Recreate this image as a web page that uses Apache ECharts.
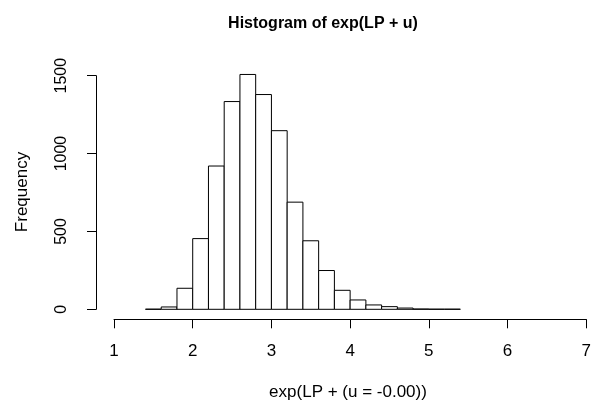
<!DOCTYPE html>
<html>
<head>
<meta charset="utf-8">
<script src="https://cdn.jsdelivr.net/npm/echarts@6/dist/echarts.min.js"></script>
<style>
  html, body { margin: 0; padding: 0; background: #fff; }
  #chart { width: 594px; height: 405px; }
</style>
</head>
<body>
<div id="chart"></div>
<script>
// Histogram bin edges and the frequency of each bin
const breaks = [1.4, 1.6, 1.8, 2.0, 2.2, 2.4, 2.6, 2.8, 3.0, 3.2, 3.4,
                3.6, 3.8, 4.0, 4.2, 4.4, 4.6, 4.8, 5.0, 5.2, 5.4];
const counts = [1, 15, 135, 454, 920, 1334, 1508, 1379, 1147, 688,
                440, 249, 122, 60, 28, 17, 8, 2, 1, 1];

// Axis tick values
const xTicks = [1, 2, 3, 4, 5, 6, 7];
const yTicks = [0, 500, 1000, 1500];

const titleText = 'Histogram of exp(LP + u)';
const xLabelText = 'exp(LP + (u = -0.00))';
const yLabelText = 'Frequency';

const bins = counts.map((c, i) => [breaks[i], breaks[i + 1], c]);

const font = "'Liberation Sans', Arial, sans-serif";
const narrowFont = "'Liberation Sans Narrow', 'Liberation Sans', Arial, sans-serif";

const chart = echarts.init(document.getElementById('chart'), null, { renderer: 'canvas' });

chart.setOption({
  animation: false,
  backgroundColor: '#ffffff',
  grid: { left: 114, right: 7.3, top: 75.7, bottom: 95.7, containLabel: false },
  xAxis: {
    type: 'value',
    min: xTicks[0],
    max: xTicks[xTicks.length - 1],
    interval: 1,
    offset: 10,
    axisLine: { show: true, onZero: false, lineStyle: { color: '#000', width: 1 } },
    axisTick: { show: true, inside: false, length: 9, lineStyle: { color: '#000', width: 1 } },
    axisLabel: { color: '#000', fontFamily: font, fontSize: 17, margin: 24,
                 formatter: v => String(v) },
    splitLine: { show: false }
  },
  yAxis: {
    type: 'value',
    min: yTicks[0],
    max: yTicks[yTicks.length - 1],
    interval: 500,
    offset: 18,
    axisLine: { show: true, onZero: false, lineStyle: { color: '#000', width: 1 } },
    axisTick: { show: true, inside: false, length: 9, lineStyle: { color: '#000', width: 1 } },
    axisLabel: { color: '#000', fontFamily: narrowFont, fontSize: 16, rotate: 90, margin: 26,
                 formatter: v => String(v) },
    splitLine: { show: false }
  },
  graphic: [
    {
      type: 'text',
      style: {
        text: titleText, x: 323, y: 24, textAlign: 'center', textVerticalAlign: 'middle',
        font: 'bold 16px ' + font, fill: '#000'
      }
    },
    {
      type: 'text',
      style: {
        text: xLabelText, x: 348, y: 392, textAlign: 'center', textVerticalAlign: 'middle',
        font: '17px ' + font, fill: '#000'
      }
    },
    {
      type: 'text',
      rotation: Math.PI / 2,
      x: 22, y: 192,
      style: {
        text: yLabelText, x: 0, y: 0, textAlign: 'center', textVerticalAlign: 'middle',
        font: '17px ' + font, fill: '#000'
      }
    }
  ],
  series: [{
    type: 'custom',
    clip: false,
    data: bins,
    encode: { x: [0, 1], y: 2 },
    renderItem: function (params, api) {
      const p0 = api.coord([api.value(0), 0]);
      const p1 = api.coord([api.value(1), api.value(2)]);
      return {
        type: 'rect',
        shape: { x: p0[0], y: p1[1], width: p1[0] - p0[0], height: p0[1] - p1[1] },
        style: { fill: '#ffffff', stroke: '#000000', lineWidth: 1 }
      };
    }
  }]
});
</script>
</body>
</html>
